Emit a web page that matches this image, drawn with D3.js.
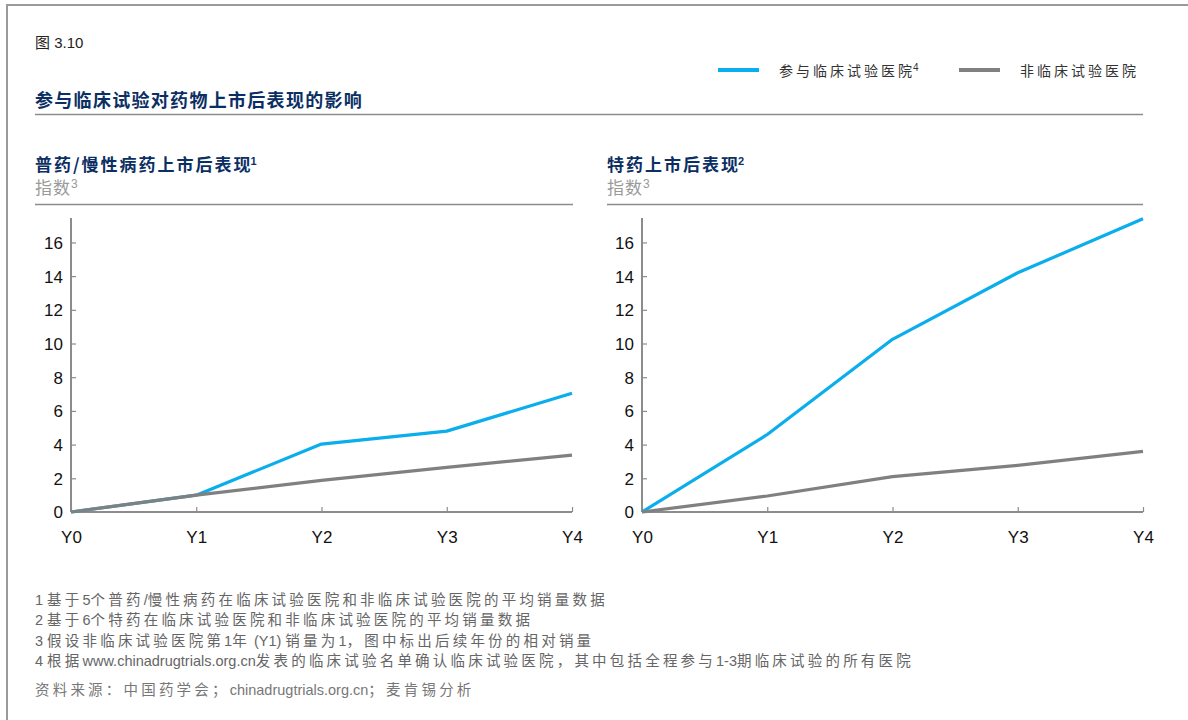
<!DOCTYPE html>
<html>
<head>
<meta charset="utf-8">
<script src="https://cdn.jsdelivr.net/npm/d3@7/dist/d3.min.js"></script>
<style>
  html, body { margin: 0; padding: 0; background: #fff; }
  svg { display: block; }
  text { font-family: "Liberation Sans", Arial, "Noto Sans CJK SC", sans-serif; }
  .cjk { font-family: "Noto Sans CJK SC", "Liberation Sans", sans-serif; }
  .mixed { font-family: "Liberation Sans", Arial, "Noto Sans CJK SC", sans-serif; }
</style>
</head>
<body>
<svg id="chart" width="1188" height="720"></svg>
<script>
// Years on the x axis
const years = ["Y0", "Y1", "Y2", "Y3", "Y4"];
// Y axis tick values
const yTicks = [0, 2, 4, 6, 8, 10, 12, 14, 16];

// Generic / chronic-disease drugs (index)
const genericTrial = [0, 1.0, 4.03, 4.8, 7.05];
const genericNonTrial = [0, 1.0, 1.88, 2.65, 3.38];

// Specialty drugs (index)
const specialtyTrial = [0, 4.6, 10.25, 14.2, 17.4];
const specialtyNonTrial = [0, 0.95, 2.1, 2.77, 3.6];

const seriesNames = ["参与临床试验医院", "非临床试验医院"];
const panelTitles = ["普药/慢性病药上市后表现", "特药上市后表现"];
const panelTitleNotes = ["1", "2"];

const footnotes = [
  "1 基于5个普药/慢性病药在临床试验医院和非临床试验医院的平均销量数据",
  "2 基于6个特药在临床试验医院和非临床试验医院的平均销量数据",
  "3 假设非临床试验医院第1年 (Y1) 销量为1，图中标出后续年份的相对销量",
  "4 根据www.chinadrugtrials.org.cn发表的临床试验名单确认临床试验医院，其中包括全程参与1-3期临床试验的所有医院"
];
const sourceText = "资料来源：中国药学会；chinadrugtrials.org.cn；麦肯锡分析";

const BLUE = "#0aaeec";
const GRAY = "#808080";
const NAVY = "#0c2f63";

const svg = d3.select("#chart");

// Writes a line of mixed Chinese/Latin text: Chinese runs are spaced out,
// Latin runs keep their natural spacing.
function mixedText(sel, str, cjkSpacing) {
  const runs = str.match(/[\u3000-\u303f\u4e00-\u9fff\uff00-\uffef]+|[^\u3000-\u303f\u4e00-\u9fff\uff00-\uffef]+/g);
  runs.forEach(r => {
    const isCjk = /[\u3000-\u303f\u4e00-\u9fff\uff00-\uffef]/.test(r);
    sel.append("tspan")
      .attr("letter-spacing", isCjk ? cjkSpacing : 0)
      .attr("font-family", isCjk ? "Noto Sans CJK SC, sans-serif" : "Liberation Sans, Arial, sans-serif")
      .text(r);
  });
}

// outer frame (top and left edges)
svg.append("path")
  .attr("d", "M7,720 L7,5 L1188,5")
  .attr("fill", "none")
  .attr("stroke", "#9a9a9a")
  .attr("stroke-width", 2);

// figure number
svg.append("text").attr("x", 35).attr("y", 48)
  .attr("font-size", 15).attr("fill", "#222")
  .html('<tspan class="cjk">图</tspan> 3.10');

// main title
svg.append("text").attr("class", "cjk")
  .attr("x", 35).attr("y", 107)
  .attr("font-size", 18).attr("font-weight", 700).attr("fill", NAVY)
  .attr("letter-spacing", 1.3)
  .text("参与临床试验对药物上市后表现的影响");
svg.append("line").attr("x1", 35).attr("x2", 1143).attr("y1", 114.5).attr("y2", 114.5)
  .attr("stroke", "#8c8c8c").attr("stroke-width", 1.5);

// legend
const legend = [
  { name: seriesNames[0], note: "4", color: BLUE, x: 718 },
  { name: seriesNames[1], note: "", color: GRAY, x: 959 }
];
legend.forEach(d => {
  svg.append("line").attr("x1", d.x).attr("x2", d.x + 41).attr("y1", 70).attr("y2", 70)
    .attr("stroke", d.color).attr("stroke-width", 4);
  const t = svg.append("text").attr("class", "cjk")
    .attr("x", d.x + 61).attr("y", 76)
    .attr("font-size", 14).attr("fill", "#333").attr("letter-spacing", 3)
    .text(d.name);
  if (d.note) {
    t.append("tspan").attr("dx", -2).attr("dy", -5).attr("font-size", 10)
      .attr("font-family", "Liberation Sans, Arial, sans-serif").attr("letter-spacing", 0)
      .text(d.note);
  }
});

// panels
const panels = [
  { left: 35, axisX: 71, right: 572, ruleRight: 573, trial: genericTrial, non: genericNonTrial },
  { left: 607, axisX: 642, right: 1143, ruleRight: 1143, trial: specialtyTrial, non: specialtyNonTrial }
];

const yTop = 218, yBottom = 512;

panels.forEach((p, i) => {
  const g = svg.append("g");

  const title = g.append("text").attr("class", "cjk")
    .attr("x", p.left).attr("y", 171)
    .attr("font-size", 17).attr("font-weight", 700).attr("fill", NAVY)
    .attr("letter-spacing", 2)
    .text(panelTitles[i]);
  title.append("tspan").attr("dx", -2).attr("dy", -6).attr("font-size", 11)
    .attr("font-family", "Liberation Sans, Arial, sans-serif")
    .text(panelTitleNotes[i]);

  const sub = g.append("text").attr("class", "cjk")
    .attr("x", p.left).attr("y", 194)
    .attr("font-size", 17).attr("fill", "#9a9a9a")
    .attr("letter-spacing", 1)
    .text("指数");
  sub.append("tspan").attr("dy", -6).attr("font-size", 12)
    .attr("font-family", "Liberation Sans, Arial, sans-serif")
    .text("3");

  g.append("line").attr("x1", p.left).attr("x2", p.ruleRight).attr("y1", 204.5).attr("y2", 204.5)
    .attr("stroke", "#8c8c8c").attr("stroke-width", 1.5);

  const x = d3.scalePoint().domain(years).range([p.axisX, p.right]);
  const y = d3.scaleLinear().domain([0, 17.45]).range([yBottom, yTop]);

  // y axis
  const yAxis = g.append("g").attr("transform", `translate(${p.axisX},0)`)
    .call(d3.axisRight(y).tickValues(yTicks).tickSize(5).tickFormat(d3.format("d")));
  yAxis.select(".domain").remove();
  yAxis.selectAll(".tick line").attr("stroke", "#8c8c8c").attr("stroke-width", 1.2);
  yAxis.selectAll(".tick text")
    .attr("x", -8).attr("text-anchor", "end").attr("dy", "0.35em")
    .attr("font-size", 17).attr("fill", "#111")
    .attr("font-family", "Liberation Sans, Arial, sans-serif");
  g.append("line").attr("x1", p.axisX).attr("x2", p.axisX).attr("y1", yTop).attr("y2", yBottom)
    .attr("stroke", "#8c8c8c").attr("stroke-width", 2);

  // x axis
  const xAxis = g.append("g").attr("transform", `translate(0,${yBottom})`)
    .call(d3.axisTop(x).tickSize(5));
  xAxis.select(".domain").remove();
  xAxis.selectAll(".tick line").attr("stroke", "#8c8c8c").attr("stroke-width", 1.2);
  xAxis.selectAll(".tick text")
    .attr("y", 25).attr("dy", "0.35em").attr("text-anchor", "middle")
    .attr("font-size", 17).attr("fill", "#111")
    .attr("font-family", "Liberation Sans, Arial, sans-serif");
  g.append("line").attr("x1", p.axisX).attr("x2", p.right).attr("y1", yBottom).attr("y2", yBottom)
    .attr("stroke", "#8c8c8c").attr("stroke-width", 2);

  const line = d3.line().x((d, k) => x(years[k])).y(d => y(d));

  g.append("path").datum(p.trial).attr("d", line)
    .attr("fill", "none").attr("stroke", BLUE).attr("stroke-width", 3.2)
    .attr("stroke-linejoin", "round");
  g.append("path").datum(p.non).attr("d", line)
    .attr("fill", "none").attr("stroke", GRAY).attr("stroke-width", 3.2)
    .attr("stroke-linejoin", "round");
});

// footnotes
const fn = svg.append("g");
footnotes.forEach((t, i) => {
  const txt = fn.append("text")
    .attr("x", 35).attr("y", 605 + i * 20.3)
    .attr("font-size", 14.5).attr("fill", "#666");
  mixedText(txt, t, 3.2);
});
const src = fn.append("text")
  .attr("x", 35).attr("y", 695)
  .attr("font-size", 14.5).attr("fill", "#777");
mixedText(src, sourceText, 3.2);
</script>
</body>
</html>
